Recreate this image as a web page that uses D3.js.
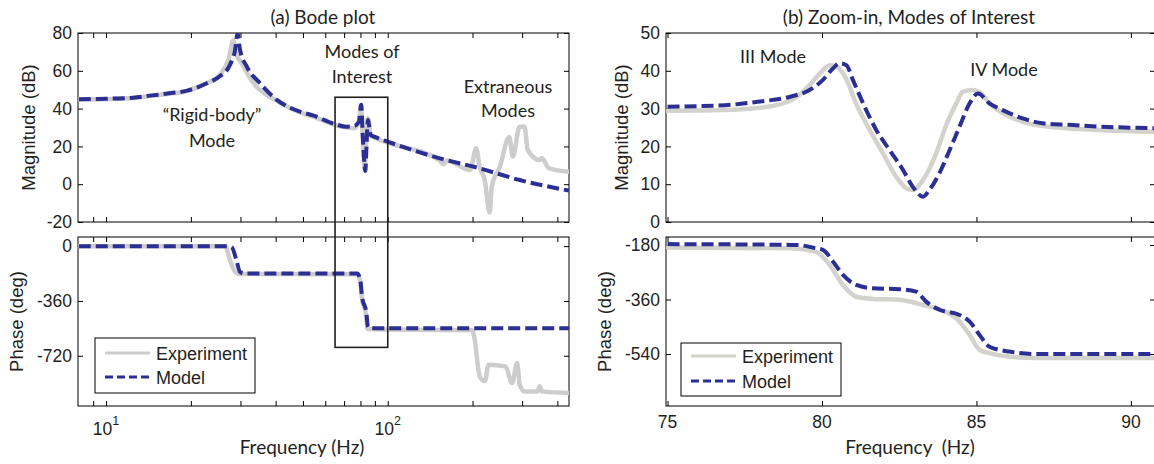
<!DOCTYPE html>
<html>
<head>
<meta charset="utf-8">
<script src="https://cdn.jsdelivr.net/npm/d3@7"></script>
<style>
  body { margin: 0; background: #fff; }
  svg text { fill: #231f20; }
  .arial { font-family: "Liberation Sans", Arial, sans-serif; }
  .cal { font-family: Lato, "Open Sans", sans-serif; }
</style>
</head>
<body>
<svg id="chart" width="1154" height="464"></svg>
<script>
// (a) Bode plot - broadband, log frequency
var aMagExpHz = [8,10,12.5,14.6,17,19.4,22.8,25.4,27.2,28.3,29.0,30.3,33.4,40,48.8,54.3,65,71.5,76,79,80.3,81.5,82.9,84,84.9,87,90,100,153,158,162,196,206,212,221,230,234,250,270,278,294,306,314,346,352,374,440];
var aMagExpDb = [44.8,45,45.6,46.8,48,49.3,53.5,58,66,76,69,64,53.4,44.5,38,35.8,31.3,30,29.6,33,41.5,24.3,8.5,24,35,26,24.5,22,12.5,10.5,12.5,7.5,19,9.3,2.2,-15,-1.4,9.3,25,14.6,30.4,30.4,18.1,12.8,13.8,8.4,6.6];
var aMagModHz = [8,10,12.5,14.6,17,19.4,22.8,25.4,27.5,28.7,29.3,29.9,31.6,35.2,40.4,48.8,54.3,65,71.5,76,79,80.5,81.5,83.2,84,85,87,90,100,153,212,294,440];
var aMagModDb = [45,45.2,45.8,47,48.2,49.5,53.4,57.2,63,71,80,71,62.2,53.4,44.6,38.4,36.4,31.8,30.4,30.8,33,42,26,7,19,34,26,25,22.5,13.7,8.4,2.2,-3.4];
var aPhExpHz = [8,26.5,27.5,29,30,78,80,81,83.5,84.8,100,200,203,212,221,228,262,276,288,294,306,340,346,352,440];
var aPhExpDeg = [0,0,-90,-178,-183,-185,-240,-340,-440,-545,-548,-552,-600,-855,-888,-779,-790,-899,-768,-910,-954,-954,-921,-954,-965];
var aPhModHz = [8,27,28,29,29.9,31,78,80,81,84,85,86,440];
var aPhModDeg = [0,0,-10,-90,-170,-180,-180,-230,-330,-440,-530,-540,-540];

// (b) zoom-in on modes III and IV, linear frequency
var bMagExpHz = [75,76.8,78.4,79.2,79.6,79.93,80.25,80.47,80.8,81.1,81.55,81.97,82.4,82.78,82.94,83.27,83.7,84.0,84.35,84.56,84.88,85.2,85.42,85.85,86.5,87.14,89.08,90.8];
var bMagExpDb = [29.4,29.6,30.7,33.2,36.2,39.3,41.5,41.1,37.6,31.4,24.3,18.2,12.0,8.7,8.5,11.1,18.2,25.2,31.4,34.5,34.9,33.6,31.4,28.8,26.5,25.4,24.3,23.9];
var bMagModHz = [75,76.85,77.9,79,79.6,80.03,80.36,80.57,80.79,81.0,81.33,81.76,82.19,82.62,82.94,83.27,83.48,83.8,84.13,84.45,84.78,85.05,85.42,85.85,86.5,87.14,88,89.08,90.8];
var bMagModDb = [30.5,30.9,31.8,33.2,34.9,37.6,40.7,42.0,41.5,37.6,31.4,24.3,19.0,13.8,9.3,6.7,8.5,12.9,19.0,25.2,31.4,34.0,31.4,29.6,27.4,26.1,25.7,25.2,24.8];
var bPhExpHz = [75,79.0,79.8,80.25,80.68,81.11,81.65,82.51,83.27,84.0,84.35,84.78,85.1,85.42,86.0,86.93,88,90.8];
var bPhExpDeg = [-188,-191,-202,-246,-312,-351,-358,-361,-378,-400,-422,-477,-526,-537,-548,-553,-553,-553];
var bPhModHz = [75,79.2,79.8,80.03,80.36,80.68,81.11,81.65,82.51,83.05,83.37,83.8,84.45,84.78,85.1,85.42,86.07,86.93,90.8];
var bPhModDeg = [-177,-180,-191,-196,-235,-279,-312,-323,-326,-334,-367,-394,-411,-433,-477,-516,-532,-540,-540];

// ticks and labels
var aFreqMajor = [10, 100];
var aFreqMinor = [9,20,30,40,50,60,70,80,90,200,300,400];
var aMagTicks = [-20,0,20,40,60,80];
var aPhTicks = [0,-360,-720];
var bFreqTicks = [75,80,85,90];
var bMagTicks = [0,10,20,30,40,50];
var bPhTicks = [-180,-360,-540];
var legendLabels = ["Experiment", "Model"];
var modesBoxHz = [65, 100], modesBoxTopDb = 46, modesBoxBottomDeg = -665;

var BLUE = "#2b2f93", GRAY_A = "#cdcdcd", GRAY_B = "#d4d2cd";

var svg = d3.select("#chart");

// layout
var aX0 = 78, aX1 = 569, bX0 = 666, bX1 = 1155;
var magTop = 33, magBot = 222, phTop = 237, phBot = 406;

var xA = d3.scaleLog().domain([7.95, 440]).range([aX0, aX1]);
var xB = d3.scaleLinear().domain([74.95, 90.78]).range([bX0, bX1]);
var magA = d3.scaleLinear().domain([-20, 80]).range([magBot, magTop]);
var phA = d3.scaleLinear().domain([-1050, 60]).range([phBot, phTop]);
var magB = d3.scaleLinear().domain([0, 50]).range([magBot, magTop]);
var phB = d3.scaleLinear().domain([-711.7, -153.6]).range([phBot, phTop]);

var clipN = 0;
function drawAxes(x, y, xTicks, yTicks) {
  var g = svg.append("g");
  var x0 = x.range()[0], x1 = x.range()[1], y0 = y.range()[0], y1 = y.range()[1];
  var tick = function(sel) {
    sel.select(".domain").remove();
    sel.selectAll("line").attr("stroke", "#000");
    sel.attr("font-family", null).attr("font-size", null);
  };
  g.append("g").attr("transform", "translate(0," + y0 + ")")
    .call(d3.axisBottom(x).tickValues(xTicks).tickSizeInner(-5).tickSizeOuter(0).tickFormat(""))
    .call(tick);
  g.append("g").attr("transform", "translate(0," + y1 + ")")
    .call(d3.axisTop(x).tickValues(xTicks).tickSizeInner(-5).tickSizeOuter(0).tickFormat(""))
    .call(tick);
  g.append("g").attr("class", "arial").attr("transform", "translate(" + x0 + ",0)")
    .call(d3.axisLeft(y).tickValues(yTicks).tickSizeInner(-5).tickSizeOuter(0).tickPadding(6)
      .tickFormat(function(d) { return String(d); }))
    .call(tick)
    .selectAll("text").attr("font-size", "17.5px").attr("fill", "#231f20");
  g.append("g").attr("transform", "translate(" + x1 + ",0)")
    .call(d3.axisRight(y).tickValues(yTicks).tickSizeInner(-5).tickSizeOuter(0).tickFormat(""))
    .call(tick);
  g.append("rect").attr("x", x0).attr("y", y1).attr("width", x1 - x0).attr("height", y0 - y1)
    .attr("fill", "none").attr("stroke", "#000").attr("stroke-width", 1);
  var id = "clip" + (clipN++);
  svg.append("clipPath").attr("id", id).append("rect")
    .attr("x", x0).attr("y", y1).attr("width", x1 - x0).attr("height", y0 - y1);
  return id;
}

function drawSeries(clip, x, y, hz, vals, gray) {
  var line = d3.line().x(function(d) { return x(d[0]); }).y(function(d) { return y(d[1]); })
    .curve(d3.curveMonotoneX);
  var pts = hz.map(function(f, i) { return [f, vals[i]]; });
  var p = svg.append("path").attr("clip-path", "url(#" + clip + ")")
    .attr("d", line(pts)).attr("fill", "none")
    .attr("stroke-linejoin", "round");
  if (gray) {
    p.attr("stroke", gray).attr("stroke-width", 4.5).attr("stroke-linecap", "round");
  } else {
    p.attr("stroke", BLUE).attr("stroke-width", 4).attr("stroke-dasharray", "12,5");
  }
}

function legend(x, y, w, h, gray, rowY) {
  var g = svg.append("g").attr("class", "arial");
  g.append("rect").attr("x", x).attr("y", y).attr("width", w).attr("height", h)
    .attr("fill", "#fff").attr("stroke", "#000").attr("stroke-width", 1);
  legendLabels.forEach(function(lbl, i) {
    var ly = rowY[i];
    var l = g.append("line").attr("x1", x + 10).attr("x2", x + 55).attr("y1", ly).attr("y2", ly);
    if (i === 0) l.attr("stroke", gray).attr("stroke-width", 3);
    else l.attr("stroke", BLUE).attr("stroke-width", 3).attr("stroke-dasharray", "8,4");
    g.append("text").attr("x", x + 61).attr("y", ly).attr("dy", "0.38em")
      .attr("font-size", "18px").text(lbl);
  });
}

// ---- (a) ----
var cA1 = drawAxes(xA, magA, aFreqMajor.concat(aFreqMinor), aMagTicks);
var cA2 = drawAxes(xA, phA, aFreqMajor.concat(aFreqMinor), aPhTicks);
drawSeries(cA1, xA, magA, aMagExpHz, aMagExpDb, GRAY_A);
drawSeries(cA1, xA, magA, aMagModHz, aMagModDb, null);
drawSeries(cA2, xA, phA, aPhExpHz, aPhExpDeg, GRAY_A);
drawSeries(cA2, xA, phA, aPhModHz, aPhModDeg, null);

// 10^n labels
aFreqMajor.forEach(function(f) {
  var t = svg.append("text").attr("class", "arial").attr("x", xA(f)).attr("y", 435)
    .attr("text-anchor", "middle").attr("font-size", "17.5px");
  t.append("tspan").text("10");
  t.append("tspan").attr("dy", "-10").attr("font-size", "12.5px").text(Math.round(Math.log10(f)));
});

// box around modes of interest
svg.append("rect")
  .attr("x", xA(modesBoxHz[0])).attr("y", magA(modesBoxTopDb))
  .attr("width", xA(modesBoxHz[1]) - xA(modesBoxHz[0]))
  .attr("height", phA(modesBoxBottomDeg) - magA(modesBoxTopDb))
  .attr("fill", "none").attr("stroke", "#231f20").attr("stroke-width", 1.6);

legend(95, 338, 160, 55, GRAY_A, [353, 377]);

// ---- (b) ----
var cB1 = drawAxes(xB, magB, bFreqTicks, bMagTicks);
var cB2 = drawAxes(xB, phB, bFreqTicks, bPhTicks);
drawSeries(cB1, xB, magB, bMagExpHz, bMagExpDb, GRAY_B);
drawSeries(cB1, xB, magB, bMagModHz, bMagModDb, null);
drawSeries(cB2, xB, phB, bPhExpHz, bPhExpDeg, GRAY_B);
drawSeries(cB2, xB, phB, bPhModHz, bPhModDeg, null);

bFreqTicks.forEach(function(f) {
  svg.append("text").attr("class", "arial").attr("x", xB(f)).attr("y", 428)
    .attr("text-anchor", "middle").attr("font-size", "17.5px").text(f);
});

legend(681, 343, 160, 53, GRAY_B, [356, 381]);

// ---- text ----
function txt(x, y, s, size, cls, anchor) {
  return svg.append("text").attr("class", cls).attr("x", x).attr("y", y)
    .attr("text-anchor", anchor || "middle").attr("font-size", size).text(s);
}
function vtxt(x, y, s) {
  return svg.append("text").attr("class", "arial")
    .attr("transform", "translate(" + x + "," + y + ") rotate(-90)")
    .attr("text-anchor", "middle").attr("font-size", "18.5px").text(s);
}
txt(323, 24, "(a) Bode plot", "19px", "cal");
txt(909, 24, "(b) Zoom-in, Modes of Interest", "19px", "cal");
txt(302, 454, "Frequency (Hz)", "19px", "cal");
txt(910, 454, "Frequency  (Hz)", "19px", "cal").style("white-space", "pre");
vtxt(34.5, 127.5, "Magnitude (dB)");
vtxt(22.5, 321.5, "Phase (deg)");
vtxt(628, 127.5, "Magnitude (dB)");
vtxt(611, 321.5, "Phase (deg)");

txt(212, 120.5, "\u201CRigid-body\u201D", "18px", "cal");
txt(212, 146.5, "Mode", "18px", "cal");
txt(362, 58, "Modes of", "18px", "cal");
txt(362, 83, "Interest", "18px", "cal");
txt(508, 93, "Extraneous", "18px", "cal");
txt(508, 117, "Modes", "18px", "cal");
txt(773, 63, "III Mode", "18px", "cal");
txt(1004, 76, "IV Mode", "18px", "cal");
</script>
</body>
</html>
